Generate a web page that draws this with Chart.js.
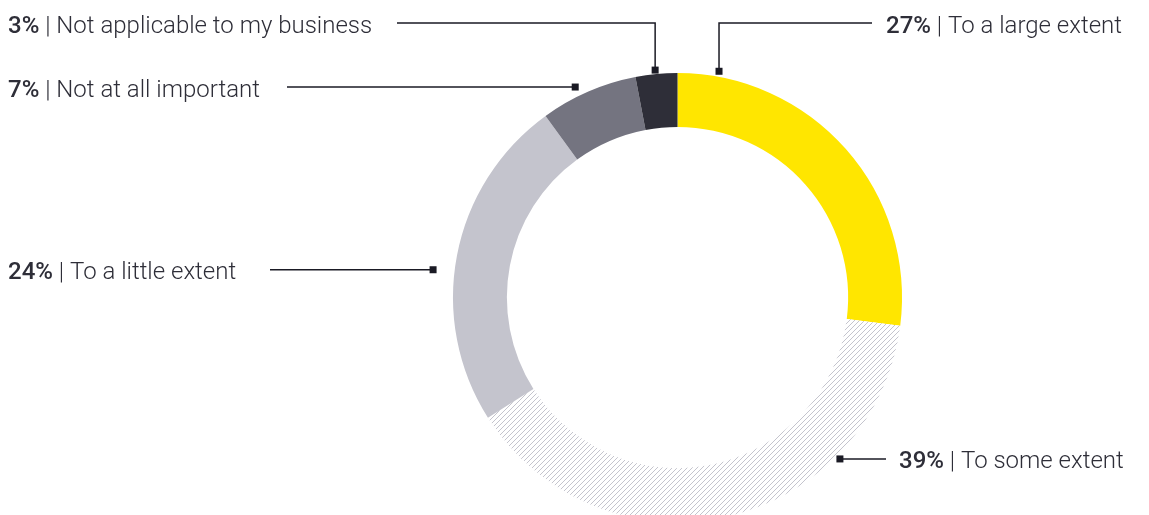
<!DOCTYPE html>
<html>
<head>
<meta charset="utf-8">
<script src="https://cdn.jsdelivr.net/npm/chart.js@4.4.1/dist/chart.umd.min.js"></script>
<style>
  html, body { margin: 0; padding: 0; background: #fff; }
  #wrap { width: 1149px; height: 515px; }
</style>
</head>
<body>
<div id="wrap"><canvas id="c"></canvas></div>
<script>
// ── Data ─────────────────────────────────────────────────────────────────────
const labels = ["To a large extent", "To some extent", "To a little extent", "Not at all important", "Not applicable to my business"];
const values = [27, 39, 24, 7, 3];

// ── Styles ───────────────────────────────────────────────────────────────────
const INK = "#2e2e38";
const LINE = "#1a1a24";
const FONT = "Roboto";
const SIZE = 24;

function hatch() {
  const s = 5;
  const p = document.createElement("canvas");
  p.width = s; p.height = s;
  const g = p.getContext("2d");
  g.fillStyle = "#fff";
  g.fillRect(0, 0, s, s);
  g.strokeStyle = "#c4c4cd";
  g.lineWidth = 1;
  g.beginPath();
  g.moveTo(-1, s + 1); g.lineTo(s + 1, -1);
  g.moveTo(-1, 1); g.lineTo(1, -1);
  g.moveTo(s - 1, s + 1); g.lineTo(s + 1, s - 1);
  g.stroke();
  return g.createPattern(p, "repeat");
}

const colors = ["#ffe600", hatch(), "#c4c4cd", "#747480", "#2e2e38"];

// leader layout per slice: t = where along the slice, gap = distance off the ring
const leaders = [
  { t: 0.107, gap: 5.5, elbowY: 23, lineTo: 872, textX: 886 },
  { t: 0.268, gap: 4.5, elbowY: null, lineTo: 886, textX: 899 },
  { t: 0.45,  gap: 21.5, elbowY: null, lineTo: 270, textX: 8 },
  { t: 0.40,  gap: 9.5, elbowY: null, lineTo: 287, textX: 8 },
  { t: 0.48,  gap: 4,   elbowY: 23, lineTo: 397, textX: 8 }
];

const leaderPlugin = {
  id: "leaders",
  afterDraw(chart) {
    const ctx = chart.ctx;
    const arcs = chart.getDatasetMeta(0).data;
    ctx.save();
    arcs.forEach((arc, i) => {
      const L = leaders[i];
      const a = arc.startAngle + L.t * (arc.endAngle - arc.startAngle);
      const r = arc.outerRadius + L.gap;
      const mx = arc.x + r * Math.cos(a);
      const my = arc.y + r * Math.sin(a);

      ctx.strokeStyle = LINE;
      ctx.lineWidth = 1.5;
      ctx.beginPath();
      ctx.moveTo(mx, my);
      let ty = my;
      if (L.elbowY !== null) {
        ctx.lineTo(mx, L.elbowY);
        ctx.lineTo(L.lineTo, L.elbowY);
        ty = L.elbowY;
      } else {
        ctx.lineTo(L.lineTo, my);
      }
      ctx.stroke();
      ctx.fillStyle = LINE;
      ctx.fillRect(mx - 3.5, my - 3.5, 7, 7);

      // text
      ctx.textBaseline = "alphabetic";
      ctx.textAlign = "left";
      ctx.fillStyle = INK;
      const by = ty + 9.5;
      let x = L.textX;
      ctx.font = `500 ${SIZE}px ${FONT}`;
      const pct = values[i] + "%";
      ctx.fillText(pct, x, by);
      x += ctx.measureText(pct).width;
      ctx.font = `300 ${SIZE}px ${FONT}`;
      ctx.fillText(" | " + labels[i], x, by);
    });
    ctx.restore();
  }
};

new Chart(document.getElementById("c"), {
  type: "doughnut",
  data: {
    labels: labels,
    datasets: [{
      data: values,
      backgroundColor: colors,
      borderWidth: 0,
      hoverOffset: 0
    }]
  },
  options: {
    responsive: true,
    maintainAspectRatio: false,
    animation: false,
    radius: 224.5,
    cutout: "76%",
    layout: { padding: { left: 453, right: 247, top: 80, bottom: 0 } },
    plugins: { legend: { display: false }, tooltip: { enabled: false } }
  },
  plugins: [leaderPlugin]
});
</script>
</body>
</html>
